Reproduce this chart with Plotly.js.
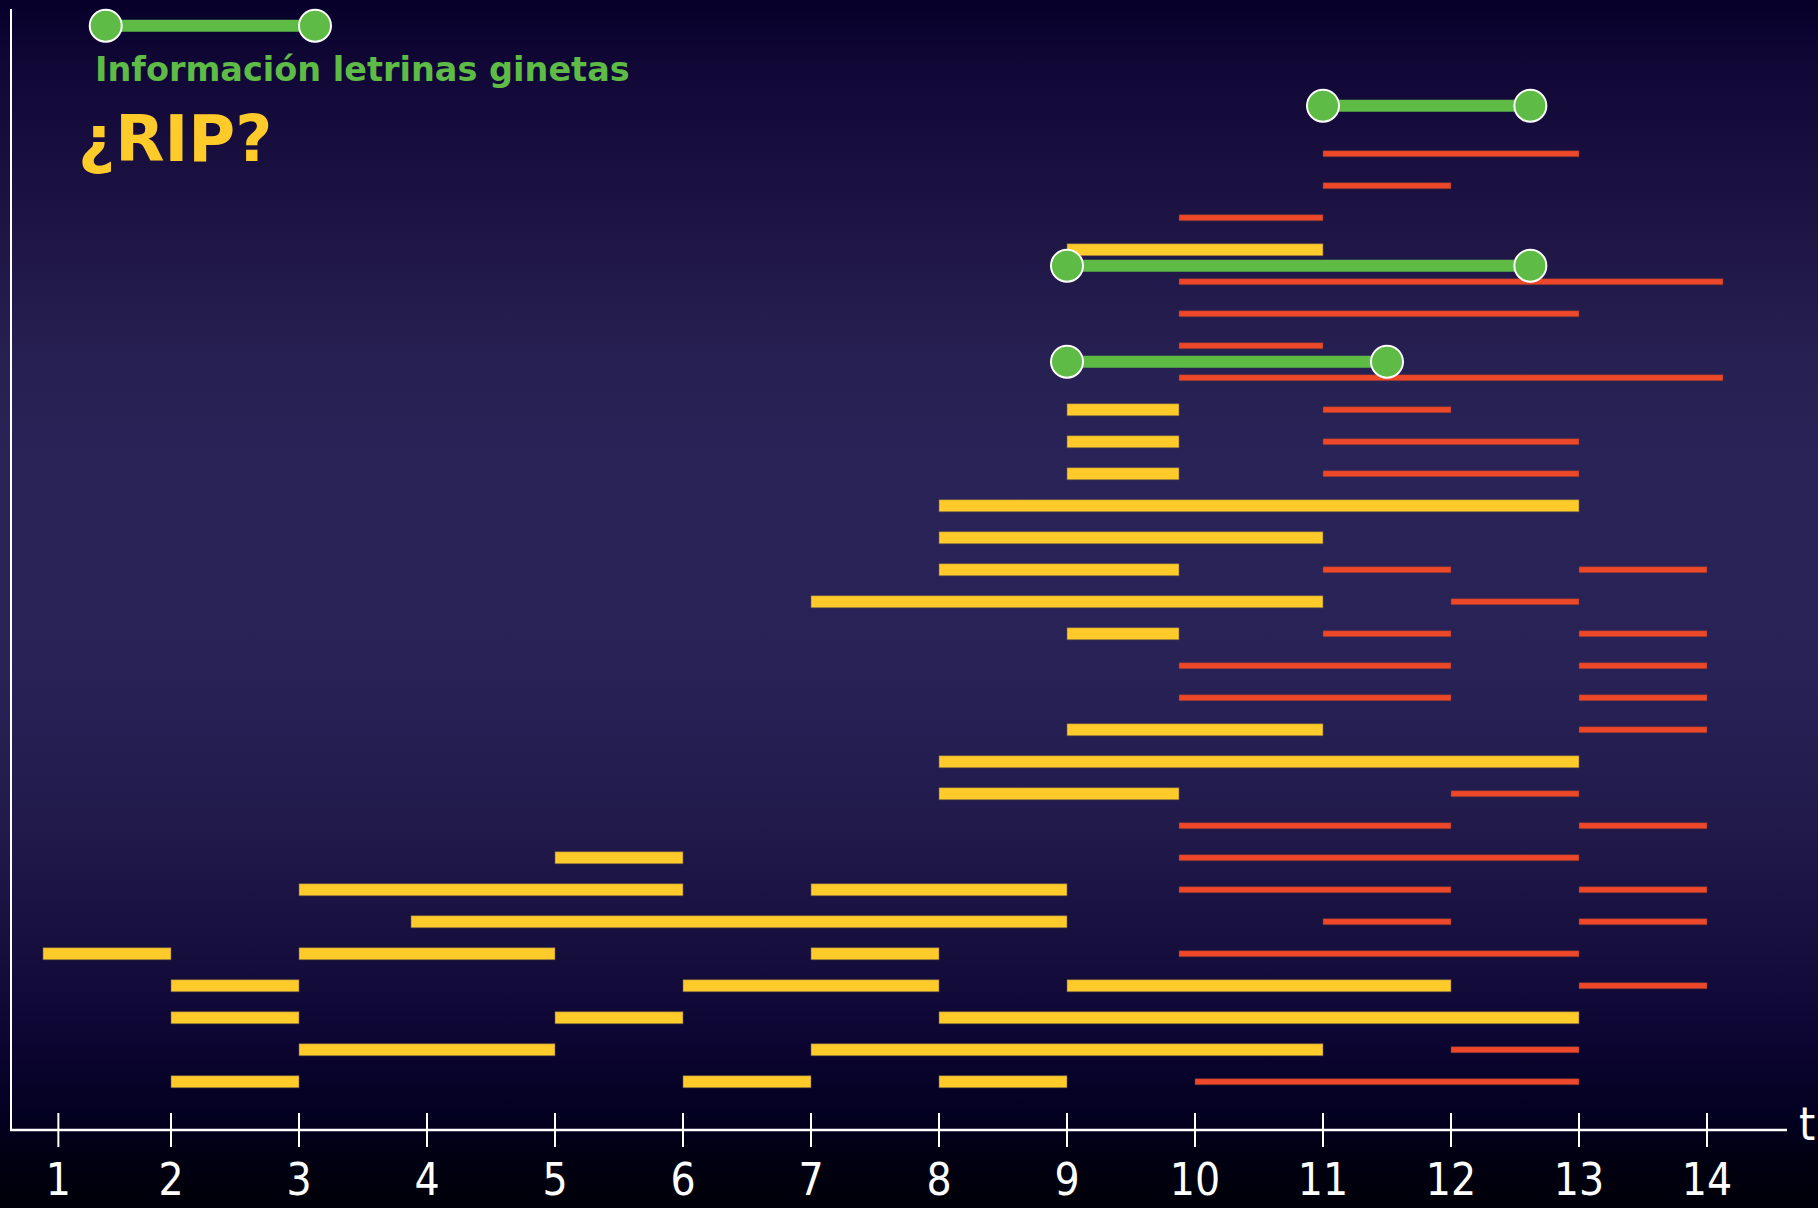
<!DOCTYPE html>
<html>
<head>
<meta charset="utf-8">
<script src="https://cdn.plot.ly/plotly-3.0.1.min.js"></script>
<style>
  html, body { margin: 0; padding: 0; }
  body {
    width: 1818px; height: 1208px; overflow: hidden;
    background: linear-gradient(to bottom,
      #06002a 0%, #120837 6%, #1d1443 18%, #272052 30%, #2a2358 40%,
      #292257 55%, #211a4b 68%, #170f3e 78%, #0d0532 86%, #030122 92%,
      #010015 95%, #000008 100%);
  }
  #chart { width: 1818px; height: 1208px; }
</style>
</head>
<body>
<div id="chart"></div>
<script>
// ---- data (rows counted from the bottom, times on the t axis) ----
const yellowRows  = [27, 22, 21, 20, 19, 18, 17, 16, 15, 12, 11, 10, 8, 7, 7, 6, 5, 5, 5, 4, 4, 4, 3, 3, 3, 2, 2, 1, 1, 1];
const yellowStart = [9, 9, 9, 9, 8, 8, 8, 7, 9, 9, 8, 8, 5, 3, 7, 3.875, 1, 3, 7, 2, 6, 9, 2, 5, 8, 3, 7, 2, 6, 8];
const yellowEnd   = [11, 9.875, 9.875, 9.875, 13, 11, 9.875, 11, 9.875, 11, 13, 9.875, 6, 6, 9, 9, 2, 5, 8, 3, 8, 12, 3, 6, 13, 5, 11, 3, 7, 9];

const redRows  = [30, 29, 28, 26, 25, 24, 23, 22, 21, 20, 17, 17, 16, 15, 15, 14, 14, 13, 13, 12, 10, 9, 9, 8, 7, 7, 6, 6, 5, 4, 2, 1];
const redStart = [11, 11, 9.875, 9.875, 9.875, 9.875, 9.875, 11, 11, 11, 11, 13, 12, 11, 13, 9.875, 13, 9.875, 13, 13, 12, 9.875, 13, 9.875, 9.875, 13, 11, 13, 9.875, 13, 12, 10];
const redEnd   = [13, 12, 11, 14.125, 13, 11, 14.125, 12, 13, 13, 12, 14, 13, 12, 14, 12, 14, 12, 14, 14, 13, 12, 14, 13, 12, 14, 12, 14, 13, 14, 13, 13];

const greenRows  = [31.5, 26.5, 23.5];
const greenStart = [11, 9, 9];
const greenEnd   = [12.62, 12.62, 11.5];

const legendRow = 34;
const legendStart = 1.49;
const legendEnd = 3.125;
const legendText = "Información letrinas ginetas";
const titleText = "¿RIP?";
const axisLabel = "t";

const tickVals = [1.12, 2, 3, 4, 5, 6, 7, 8, 9, 10, 11, 12, 13, 14];
const tickText = ["1", "2", "3", "4", "5", "6", "7", "8", "9", "10", "11", "12", "13", "14"];

// ---- styles ----
const W = 1818, H = 1208, PH = 1130;
const YELLOW = "#FFCB2B", RED = "#EE482B", GREEN = "#5DBB46";
const FONT = "'DejaVu Sans Condensed', 'DejaVu Sans', sans-serif";
const BOLDFONT = "'DejaVu Sans', sans-serif";

function segTrace(xs0, xs1, ys) {
  const x = [], y = [];
  for (let i = 0; i < ys.length; i++) {
    x.push(xs0[i], xs1[i], null);
    y.push(ys[i], ys[i], null);
  }
  return {x, y};
}

const traces = [];
traces.push({
  type: "bar", orientation: "h",
  y: yellowRows, base: yellowStart,
  x: yellowEnd.map((e, i) => e - yellowStart[i]),
  width: 0.375,
  marker: {color: YELLOW, line: {color: "rgba(110,90,70,0.7)", width: 0.8}},
  hoverinfo: "skip", showlegend: false
});
traces.push({
  type: "bar", orientation: "h",
  y: redRows, base: redStart,
  x: redEnd.map((e, i) => e - redStart[i]),
  width: 0.19,
  marker: {color: RED, line: {color: "rgba(110,50,50,0.7)", width: 0.8}},
  hoverinfo: "skip", showlegend: false
});
const g = segTrace(greenStart.concat([legendStart]), greenEnd.concat([legendEnd]), greenRows.concat([legendRow]));
traces.push({
  type: "scatter", mode: "lines+markers",
  x: g.x, y: g.y, connectgaps: false,
  line: {color: GREEN, width: 12},
  marker: {color: GREEN, size: 32, line: {color: "#ffffff", width: 2}},
  hoverinfo: "skip", showlegend: false, cliponaxis: false
});

const shapes = [];
// vertical axis line
shapes.push({type: "line", xref: "paper", yref: "paper", x0: 11 / W, x1: 11 / W, y0: 0, y1: 1 - 9 / PH,
  line: {color: "#ffffff", width: 2}});
// horizontal axis line
shapes.push({type: "line", xref: "paper", yref: "paper", x0: 10 / W, x1: 1787 / W, y0: 0, y1: 0,
  line: {color: "#ffffff", width: 2.5}});
// ticks crossing the axis
tickVals.forEach(v => {
  shapes.push({type: "line", xref: "x", yref: "paper", ysizemode: "pixel", yanchor: 0,
    x0: v, x1: v, y0: -17, y1: 17, line: {color: "#ffffff", width: 2}});
});

const annotations = [
  {xref: "paper", yref: "paper", x: 93 / W, y: 1 - 70 / PH, xanchor: "left", yanchor: "middle",
   text: "<b>" + legendText + "</b>", showarrow: false,
   font: {family: BOLDFONT, size: 33.5, color: GREEN}},
  {xref: "paper", yref: "paper", x: 76 / W, y: 1 - 139 / PH, xanchor: "left", yanchor: "middle",
   text: "<b>" + titleText + "</b>", showarrow: false,
   font: {family: BOLDFONT, size: 64, color: YELLOW}},
  {xref: "paper", yref: "paper", x: 1797 / W, y: 1 - 1124 / PH, xanchor: "left", yanchor: "middle",
   text: axisLabel, showarrow: false,
   font: {family: FONT, size: 46, color: "#ffffff"}}
];

const layout = {
  width: W, height: H,
  margin: {l: 0, r: 0, t: 0, b: H - PH, pad: 0},
  paper_bgcolor: "rgba(0,0,0,0)",
  plot_bgcolor: "rgba(0,0,0,0)",
  barmode: "overlay",
  showlegend: false,
  xaxis: {
    range: [2 - 171 / 128, 2 + (W - 171) / 128],
    showgrid: false, zeroline: false, showline: false,
    tickmode: "array", tickvals: tickVals, ticktext: tickText,
    ticks: "", ticklabelstandoff: 20,
    tickfont: {family: FONT, size: 44, color: "#ffffff"},
    fixedrange: true
  },
  yaxis: {
    range: [1 + (1081.7 - PH) / 32, 1 + 1081.7 / 32],
    showgrid: false, zeroline: false, showline: false, showticklabels: false, ticks: "",
    fixedrange: true
  },
  shapes: shapes,
  annotations: annotations
};

Plotly.newPlot("chart", traces, layout, {staticPlot: true, displayModeBar: false});
</script>
</body>
</html>
